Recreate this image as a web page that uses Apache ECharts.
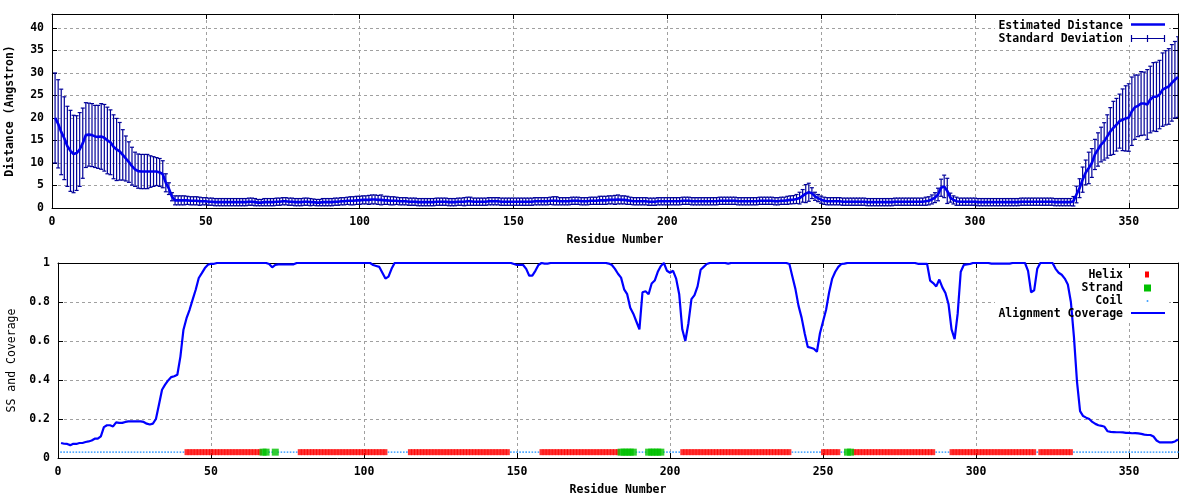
<!DOCTYPE html>
<html><head><meta charset="utf-8">
<script src="https://cdn.jsdelivr.net/npm/echarts@6/dist/echarts.min.js"></script>
<style>html,body{margin:0;padding:0;background:#fff}#c{width:1200px;height:500px}</style>
</head><body><div id="c"></div>
<script>
// ---------- DATA ----------
const residueCount = 366;           // residues 1..366
const distanceMax = 43.1;           // top y-axis max
const xTickStep = 50;
const distTickStep = 5;
const ssLevel = 0.03;               // y position of SS markers

// Estimated distance per residue (1..366)
const distMean = [
20.0,18.7,16.9,15.5,13.7,12.7,12.0,12.2,13.0,14.4,
16.2,16.3,16.2,15.9,15.8,15.9,15.6,15.0,14.6,13.6,
13.0,12.6,11.8,11.0,10.2,9.3,8.6,8.2,8.1,8.1,
8.1,8.1,8.1,8.1,7.9,7.5,5.6,4.3,2.5,1.7,
1.7,1.7,1.7,1.7,1.6,1.6,1.6,1.5,1.5,1.5,
1.4,1.4,1.3,1.3,1.3,1.3,1.3,1.3,1.3,1.3,
1.3,1.3,1.3,1.4,1.4,1.3,1.2,1.2,1.3,1.3,
1.3,1.3,1.4,1.4,1.5,1.5,1.4,1.4,1.3,1.3,
1.3,1.4,1.4,1.3,1.3,1.2,1.2,1.3,1.3,1.3,
1.3,1.4,1.4,1.5,1.5,1.6,1.6,1.6,1.7,1.7,
1.8,1.8,1.8,1.9,1.9,1.8,1.8,1.7,1.7,1.6,
1.6,1.6,1.5,1.5,1.5,1.4,1.4,1.4,1.3,1.3,
1.3,1.3,1.3,1.3,1.4,1.4,1.4,1.4,1.3,1.3,
1.3,1.4,1.4,1.4,1.5,1.5,1.4,1.4,1.4,1.4,
1.4,1.5,1.5,1.5,1.5,1.4,1.4,1.4,1.4,1.4,
1.4,1.4,1.4,1.4,1.4,1.4,1.5,1.5,1.5,1.5,
1.5,1.6,1.6,1.6,1.5,1.5,1.5,1.5,1.6,1.6,
1.6,1.5,1.5,1.5,1.6,1.6,1.6,1.7,1.7,1.7,
1.8,1.8,1.8,1.9,1.8,1.8,1.7,1.6,1.5,1.5,
1.5,1.5,1.5,1.4,1.4,1.4,1.5,1.5,1.5,1.5,
1.5,1.5,1.5,1.5,1.6,1.6,1.6,1.5,1.5,1.5,
1.5,1.5,1.5,1.5,1.5,1.5,1.6,1.6,1.6,1.6,
1.6,1.6,1.5,1.5,1.5,1.5,1.5,1.5,1.5,1.6,
1.6,1.6,1.6,1.6,1.5,1.5,1.6,1.6,1.7,1.8,
1.85,2.0,2.2,2.7,3.2,3.5,3.3,2.6,2.2,1.85,
1.6,1.5,1.5,1.5,1.5,1.5,1.4,1.4,1.4,1.4,
1.4,1.4,1.4,1.4,1.3,1.3,1.3,1.3,1.3,1.3,
1.3,1.3,1.3,1.4,1.4,1.4,1.4,1.4,1.4,1.4,
1.4,1.4,1.4,1.5,1.6,1.9,2.3,3.0,4.5,4.8,
3.8,2.3,1.8,1.5,1.4,1.4,1.4,1.4,1.4,1.4,
1.3,1.3,1.3,1.3,1.3,1.3,1.3,1.3,1.3,1.3,
1.3,1.3,1.3,1.3,1.4,1.4,1.4,1.4,1.4,1.4,
1.4,1.4,1.4,1.4,1.4,1.3,1.3,1.3,1.3,1.3,
1.3,1.5,3.0,4.4,6.3,7.9,8.9,10.0,11.9,13.0,
14.1,14.8,15.9,17.0,17.8,18.5,19.3,19.6,19.9,20.1,
21.5,22.4,22.7,23.2,23.2,23.0,24.1,24.7,24.7,25.2,
26.3,26.7,27.0,27.8,28.5,29.1
];

// Standard deviation per residue (1..366)
const distSd = [
10.0,9.8,9.5,9.2,8.9,9.0,8.6,8.3,8.2,7.8,
7.2,7.0,7.0,6.9,7.0,7.3,7.4,7.4,7.2,7.1,
6.9,6.4,5.6,5.0,4.5,4.2,3.8,3.8,3.8,3.8,
3.8,3.5,3.3,3.1,3.1,3.0,2.0,1.3,0.9,1.0,
1.0,1.0,1.0,0.9,0.9,0.9,0.9,0.9,0.8,0.8,
0.8,0.8,0.8,0.8,0.8,0.8,0.8,0.8,0.8,0.8,
0.8,0.8,0.8,0.8,0.8,0.8,0.7,0.7,0.8,0.8,
0.8,0.8,0.8,0.8,0.8,0.8,0.8,0.8,0.8,0.8,
0.8,0.8,0.8,0.8,0.7,0.7,0.7,0.8,0.8,0.8,
0.8,0.8,0.8,0.8,0.8,0.8,0.9,0.9,0.9,0.9,
0.9,0.9,1.0,1.0,1.0,1.0,1.1,0.9,0.9,0.9,
0.9,0.8,0.8,0.8,0.8,0.8,0.8,0.8,0.8,0.8,
0.8,0.8,0.8,0.8,0.8,0.8,0.8,0.8,0.8,0.8,
0.8,0.8,0.8,0.9,0.9,0.9,0.8,0.8,0.8,0.8,
0.8,0.8,0.8,0.8,0.8,0.8,0.8,0.8,0.8,0.8,
0.8,0.8,0.8,0.8,0.8,0.8,0.8,0.8,0.8,0.8,
0.8,0.8,0.9,0.9,0.8,0.8,0.8,0.8,0.8,0.8,
0.8,0.8,0.8,0.8,0.8,0.8,0.8,0.9,0.9,0.9,
0.9,0.9,1.0,1.0,0.9,0.9,0.9,0.8,0.8,0.8,
0.8,0.8,0.8,0.8,0.8,0.8,0.8,0.8,0.8,0.8,
0.8,0.8,0.8,0.8,0.8,0.8,0.8,0.8,0.8,0.8,
0.8,0.8,0.8,0.8,0.8,0.8,0.8,0.8,0.8,0.8,
0.8,0.8,0.8,0.8,0.8,0.8,0.8,0.8,0.8,0.8,
0.8,0.8,0.8,0.8,0.8,0.8,0.8,0.8,0.9,0.9,
0.9,1.0,1.3,1.4,2.0,2.0,1.2,0.9,0.8,0.8,
0.8,0.8,0.8,0.8,0.8,0.8,0.8,0.8,0.8,0.8,
0.8,0.8,0.8,0.8,0.8,0.8,0.8,0.8,0.8,0.8,
0.8,0.8,0.8,0.8,0.8,0.8,0.8,0.8,0.8,0.8,
0.8,0.8,0.8,0.9,0.9,1.0,1.1,1.4,1.9,2.5,
2.8,1.0,0.9,0.9,0.8,0.8,0.8,0.8,0.8,0.8,
0.8,0.8,0.8,0.8,0.8,0.8,0.8,0.8,0.8,0.8,
0.8,0.8,0.8,0.8,0.8,0.8,0.8,0.8,0.8,0.8,
0.8,0.8,0.8,0.8,0.8,0.8,0.8,0.8,0.8,0.8,
0.8,1.05,1.85,2.1,2.8,2.75,3.5,3.2,3.35,3.7,
3.85,4.15,4.8,5.3,5.9,5.85,6.0,6.85,7.25,7.5,
7.6,7.15,6.85,7.1,7.0,7.75,7.4,7.6,7.7,7.6,
8.15,8.25,8.4,8.5,8.5,8.95
];

// Alignment coverage per residue (1..366)
const coverage = [
0.077,0.073,0.072,0.066,0.073,0.072,0.077,0.077,0.082,0.085,
0.09,0.099,0.099,0.111,0.158,0.168,0.168,0.162,0.183,0.18,
0.18,0.185,0.188,0.188,0.188,0.188,0.188,0.185,0.176,0.172,
0.176,0.2,0.274,0.35,0.376,0.398,0.415,0.419,0.427,0.52,
0.658,0.717,0.76,0.812,0.863,0.923,0.948,0.974,0.991,0.996,
0.996,1,1,1,1,1,1,1,1,1,
1,1,1,1,1,1,1,1,0.995,0.978,
0.99,0.993,0.993,0.993,0.993,0.993,0.993,1,1,1,
1,1,1,1,1,1,1,1,1,1,
1,1,1,1,1,1,1,1,1,1,
1,1,0.99,0.985,0.98,0.95,0.92,0.93,0.97,1,
1,1,1,1,1,1,1,1,1,1,
1,1,1,1,1,1,1,1,1,1,
1,1,1,1,1,1,1,1,1,1,
1,1,1,1,1,1,1,1,0.995,0.99,
0.99,0.99,0.97,0.935,0.935,0.96,0.99,1,0.997,0.997,
1,1,1,1,1,1,1,1,1,1,
1,1,1,1,1,1,1,1,1,0.997,
0.99,0.97,0.945,0.925,0.865,0.84,0.77,0.74,0.70,0.66,
0.85,0.855,0.84,0.895,0.91,0.955,0.985,1,0.96,0.95,
0.96,0.92,0.84,0.66,0.60,0.69,0.815,0.835,0.88,0.965,
0.98,0.995,1,1,1,1,1,1,0.997,1,
1,1,1,1,1,1,1,1,1,1,
1,1,1,1,1,1,1,1,0.995,0.93,
0.865,0.78,0.72,0.64,0.57,0.565,0.56,0.545,0.64,0.70,
0.76,0.85,0.92,0.955,0.98,0.995,0.997,1,1,1,
1,1,1,1,1,1,1,1,1,1,
1,1,1,1,1,1,1,1,1,1,
0.996,0.996,0.996,0.996,0.91,0.897,0.88,0.915,0.875,0.846,
0.79,0.66,0.61,0.74,0.955,0.99,0.993,0.995,1,1,
1,1,1,1,0.997,0.997,0.997,0.997,0.997,0.997,
0.997,1,1,1,1,1,0.96,0.85,0.86,0.97,
1,1,1,1,1,0.97,0.95,0.94,0.92,0.89,
0.80,0.62,0.39,0.24,0.215,0.207,0.20,0.185,0.175,0.168,
0.165,0.16,0.137,0.134,0.133,0.132,0.132,0.131,0.129,0.129,
0.127,0.128,0.126,0.124,0.12,0.118,0.118,0.11,0.09,0.08,
0.08,0.08,0.08,0.08,0.085,0.095
];

// Secondary structure runs: [state, firstResidue, lastResidue]
const ssSegments = [
['C',1,41],['H',42,66],['E',67,68],['C',69,70],['E',71,71],['C',72,78],
['H',79,107],['C',108,114],['H',115,147],['C',148,157],['H',158,183],
['E',184,188],['C',189,192],['E',193,197],['C',198,203],['H',204,239],
['C',240,249],['H',250,255],['C',256,257],['E',258,259],['H',260,286],
['C',287,291],['H',292,319],['C',320,320],['H',321,331],['C',332,366]
];

// ---------- BUILD ----------
const FONT = "'DejaVu Sans Mono', 'Liberation Mono', monospace";
const distLine = distMean.map((v, i) => [i + 1, v]);
const distErr = distMean.map((v, i) => [i + 1, v, distSd[i]]);
const covLine = coverage.map((v, i) => [i + 1, v]);
const helixPts = [], strandPts = [], coilPts = [];
ssSegments.forEach(([s, a, b]) => {
  for (let r = a; r <= b; r++) {
    const p = [r, ssLevel];
    if (s === 'H') helixPts.push(p); else if (s === 'E') strandPts.push(p); else coilPts.push(p);
  }
});

const labelStyle = {color: '#000', fontFamily: FONT, fontSize: 11.5, fontWeight: 'bold'};
const splitStyle = {show: true, lineStyle: {color: '#a0a0a0', type: [3, 3], width: 1}};
const lineAx = {show: true, onZero: false, lineStyle: {color: '#000', width: 1}};
const tickAx = {show: true, inside: true, length: 5, lineStyle: {color: '#000', width: 1}};

function xFmt(v) { return v % xTickStep === 0 ? String(v) : ''; }

const option = {
  animation: false,
  backgroundColor: '#fff',
  grid: [
    {left: 52, right: 22, top: 14, height: 194, containLabel: false, outerBoundsMode: 'none'},
    {left: 58, right: 22, top: 263, height: 195, containLabel: false, outerBoundsMode: 'none'}
  ],
  xAxis: [
    {gridIndex: 0, type: 'value', min: 0, max: residueCount, interval: xTickStep, position: 'bottom',
     axisLine: lineAx, axisTick: tickAx, splitLine: splitStyle,
     axisLabel: Object.assign({margin: 8, formatter: xFmt}, labelStyle),
     name: 'Residue Number', nameLocation: 'middle', nameGap: 26,
     nameTextStyle: {color: '#000', fontFamily: FONT, fontSize: 11.5, fontWeight: 'bold'}},
    {gridIndex: 0, type: 'value', min: 0, max: residueCount, interval: xTickStep, position: 'top',
     axisLine: lineAx, axisTick: tickAx, splitLine: {show: false}, axisLabel: {show: false}},
    {gridIndex: 1, type: 'value', min: 0, max: residueCount, interval: xTickStep, position: 'bottom',
     axisLine: lineAx, axisTick: tickAx, splitLine: splitStyle,
     axisLabel: Object.assign({margin: 8, formatter: xFmt}, labelStyle),
     name: 'Residue Number', nameLocation: 'middle', nameGap: 26,
     nameTextStyle: {color: '#000', fontFamily: FONT, fontSize: 11.5, fontWeight: 'bold'}},
    {gridIndex: 1, type: 'value', min: 0, max: residueCount, interval: xTickStep, position: 'top',
     axisLine: lineAx, axisTick: tickAx, splitLine: {show: false}, axisLabel: {show: false}}
  ],
  yAxis: [
    {gridIndex: 0, type: 'value', min: 0, max: distanceMax, interval: distTickStep, position: 'left',
     axisLine: lineAx, axisTick: tickAx, splitLine: splitStyle,
     axisLabel: Object.assign({margin: 8, formatter: v => (v % distTickStep === 0 ? String(v) : '')}, labelStyle),
     name: 'Distance (Angstron)', nameLocation: 'middle', nameRotate: 90, nameGap: 36,
     nameTextStyle: {color: '#000', fontFamily: FONT, fontSize: 11.5, fontWeight: 'bold'}},
    {gridIndex: 0, type: 'value', min: 0, max: distanceMax, interval: distTickStep, position: 'right',
     axisLine: lineAx, axisTick: tickAx, splitLine: {show: false}, axisLabel: {show: false}},
    {gridIndex: 1, type: 'value', min: 0, max: 1, interval: 0.2, position: 'left',
     axisLine: lineAx, axisTick: tickAx, splitLine: splitStyle,
     axisLabel: Object.assign({margin: 8}, labelStyle),
     name: 'SS and Coverage', nameLocation: 'middle', nameRotate: 90, nameGap: 40,
     nameTextStyle: {color: '#000', fontFamily: FONT, fontSize: 11.5, fontWeight: 'normal'}},
    {gridIndex: 1, type: 'value', min: 0, max: 1, interval: 0.2, position: 'right',
     axisLine: lineAx, axisTick: tickAx, splitLine: {show: false}, axisLabel: {show: false}}
  ],
  series: [
    {name: 'Standard Deviation', type: 'custom', xAxisIndex: 0, yAxisIndex: 0, z: 3, clip: true,
     data: distErr, encode: {x: 0, y: [1]},
     renderItem: function (params, api) {
       const x = api.value(0), m = api.value(1), s = api.value(2);
       const hi = api.coord([x, m + s]), lo = api.coord([x, m - s]);
       const cw = 2;
       const st = {stroke: '#000099', lineWidth: 1.2};
       return {type: 'group', children: [
         {type: 'line', shape: {x1: hi[0], y1: hi[1], x2: lo[0], y2: lo[1]}, style: st},
         {type: 'line', shape: {x1: hi[0] - cw, y1: hi[1], x2: hi[0] + cw, y2: hi[1]}, style: st},
         {type: 'line', shape: {x1: lo[0] - cw, y1: lo[1], x2: lo[0] + cw, y2: lo[1]}, style: st}
       ]};
     }},
    {name: 'Estimated Distance', type: 'line', xAxisIndex: 0, yAxisIndex: 0, z: 4,
     data: distLine, showSymbol: false, lineStyle: {color: '#0000ee', width: 2.6}, itemStyle: {color: '#0000ee'}},
    {name: 'Coil', type: 'scatter', xAxisIndex: 2, yAxisIndex: 2, z: 3,
     data: coilPts, symbol: 'rect', symbolSize: [1.6, 1.6], itemStyle: {color: '#1e90ff'}},
    {name: 'Helix', type: 'scatter', xAxisIndex: 2, yAxisIndex: 2, z: 3,
     data: helixPts, symbol: 'rect', symbolSize: [4, 6], itemStyle: {color: '#ff0000'}},
    {name: 'Strand', type: 'scatter', xAxisIndex: 2, yAxisIndex: 2, z: 4,
     data: strandPts, symbol: 'rect', symbolSize: [7, 7], itemStyle: {color: '#00c000'}},
    {name: 'Alignment Coverage', type: 'line', xAxisIndex: 2, yAxisIndex: 2, z: 5,
     data: covLine, showSymbol: false, lineStyle: {color: '#0000ff', width: 2.2}, itemStyle: {color: '#0000ff'}}
  ],
  graphic: [
    // top key
    {type: 'rect', z: 1, silent: true, shape: {x: 995, y: 20, width: 174, height: 25}, style: {fill: '#fff'}},
    {type: 'text', z: 10, style: {x: 1123, y: 26, text: 'Estimated Distance', align: 'right', verticalAlign: 'middle', fill: '#000', font: 'bold 11.5px ' + FONT}},
    {type: 'line', z: 10, shape: {x1: 1131, y1: 24.5, x2: 1165, y2: 24.5}, style: {stroke: '#0000ee', lineWidth: 2.6}},
    {type: 'text', z: 10, style: {x: 1123, y: 39, text: 'Standard Deviation', align: 'right', verticalAlign: 'middle', fill: '#000', font: 'bold 11.5px ' + FONT}},
    {type: 'line', z: 10, shape: {x1: 1131, y1: 38.5, x2: 1165, y2: 38.5}, style: {stroke: '#000099', lineWidth: 1.2}},
    {type: 'line', z: 10, shape: {x1: 1131.5, y1: 35, x2: 1131.5, y2: 42}, style: {stroke: '#000099', lineWidth: 1.2}},
    {type: 'line', z: 10, shape: {x1: 1164.5, y1: 35, x2: 1164.5, y2: 42}, style: {stroke: '#000099', lineWidth: 1.2}},
    {type: 'line', z: 10, shape: {x1: 1147.5, y1: 35, x2: 1147.5, y2: 42}, style: {stroke: '#000099', lineWidth: 1.2}},
    // bottom key
    {type: 'rect', z: 1, silent: true, shape: {x: 995, y: 268, width: 174, height: 52}, style: {fill: '#fff'}},
    {type: 'text', z: 10, style: {x: 1123, y: 275, text: 'Helix', align: 'right', verticalAlign: 'middle', fill: '#000', font: 'bold 11.5px ' + FONT}},
    {type: 'rect', z: 10, shape: {x: 1145, y: 271.5, width: 4, height: 6}, style: {fill: '#ff0000'}},
    {type: 'text', z: 10, style: {x: 1123, y: 288, text: 'Strand', align: 'right', verticalAlign: 'middle', fill: '#000', font: 'bold 11.5px ' + FONT}},
    {type: 'rect', z: 10, shape: {x: 1144, y: 284.5, width: 7, height: 7}, style: {fill: '#00c000'}},
    {type: 'text', z: 10, style: {x: 1123, y: 301, text: 'Coil', align: 'right', verticalAlign: 'middle', fill: '#000', font: 'bold 11.5px ' + FONT}},
    {type: 'rect', z: 10, shape: {x: 1146.7, y: 300.2, width: 1.6, height: 1.6}, style: {fill: '#1e90ff'}},
    {type: 'text', z: 10, style: {x: 1123, y: 314, text: 'Alignment Coverage', align: 'right', verticalAlign: 'middle', fill: '#000', font: 'bold 11.5px ' + FONT}},
    {type: 'line', z: 10, shape: {x1: 1131, y1: 313, x2: 1165, y2: 313}, style: {stroke: '#0000ff', lineWidth: 2.2}}
  ]
};

const chart = echarts.init(document.getElementById('c'), null, {renderer: 'canvas'});
chart.setOption(option);
</script>
</body></html>
